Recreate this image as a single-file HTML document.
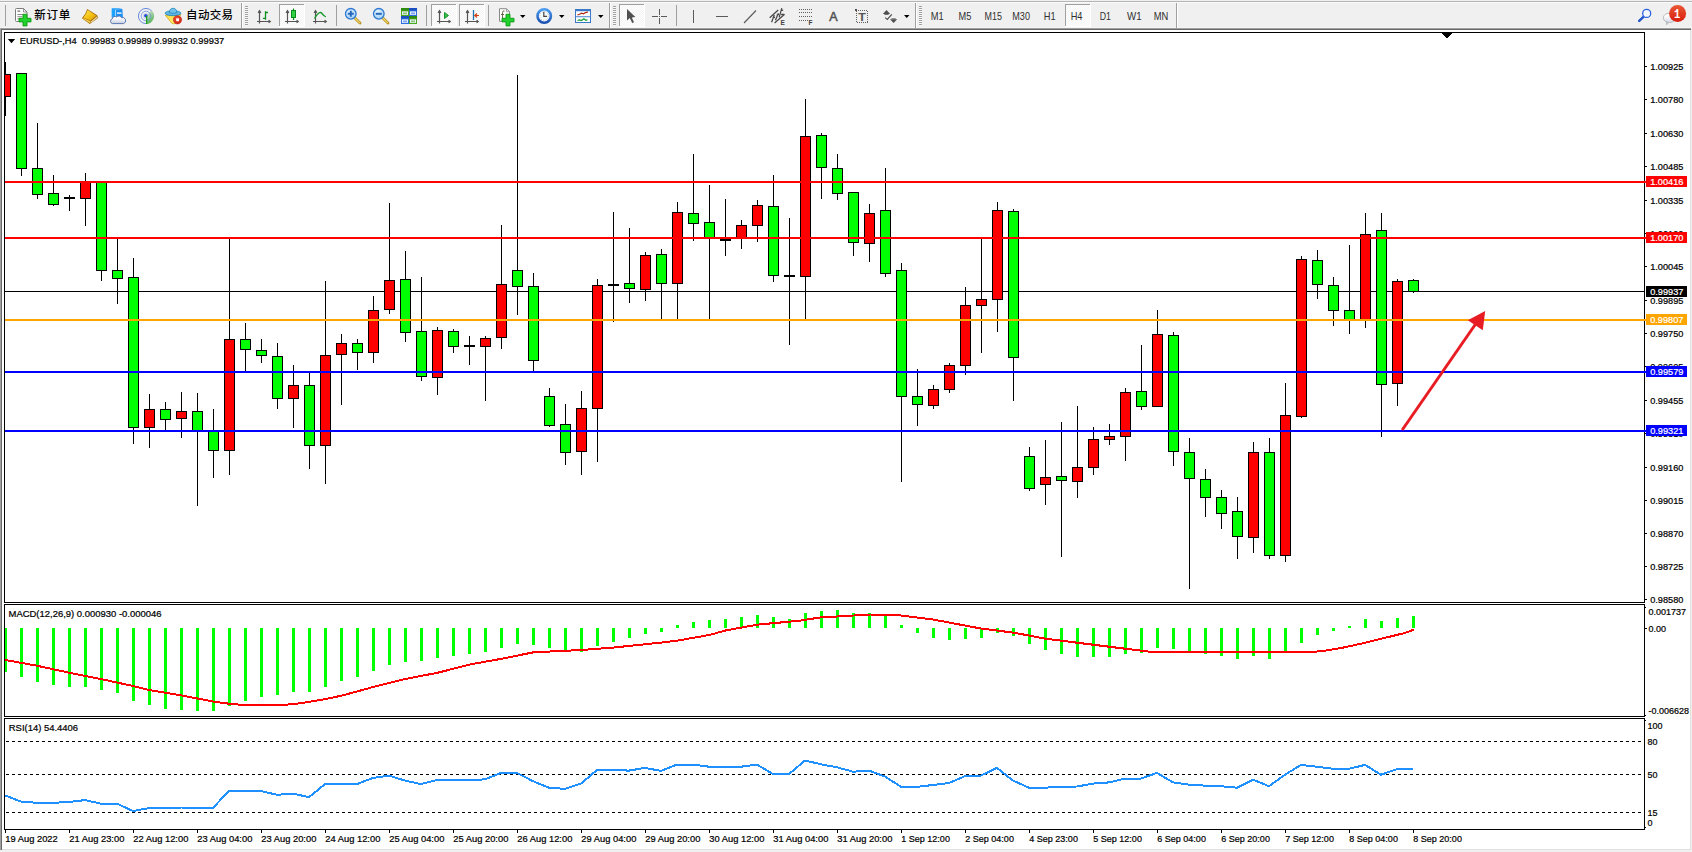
<!DOCTYPE html>
<html lang="zh-CN"><head><meta charset="utf-8"><title>EURUSD-,H4</title>
<style>
html,body{margin:0;padding:0;background:#fff;}
body{width:1692px;height:852px;overflow:hidden;position:relative;font-family:"Liberation Sans", "Noto Sans CJK SC", sans-serif;}
svg{position:absolute;left:0;top:0;display:block;}
svg text{font-family:"Liberation Sans", "Noto Sans CJK SC", sans-serif;white-space:pre;}
</style></head><body>
<svg width="1692" height="852" viewBox="0 0 1692 852">
<rect x="0" y="0" width="1692" height="852" fill="#fff"/>
<rect x="0" y="0" width="1692" height="28" fill="#f0f0f0"/>
<rect x="0" y="1" width="1692" height="1" fill="#b4b4b4"/>
<rect x="0" y="2" width="1692" height="1" fill="#fbfbfb"/>
<rect x="0" y="27" width="1692" height="1" fill="#f5f5f5"/>
<defs><pattern id="dots" width="2" height="2" patternUnits="userSpaceOnUse"><rect width="2" height="2" fill="#f4f4f4"/><rect width="1" height="1" fill="#fff"/><rect x="1" y="1" width="1" height="1" fill="#fff"/></pattern><linearGradient id="gGold" x1="0" y1="0" x2="1" y2="1"><stop offset="0" stop-color="#ffe860"/><stop offset="0.55" stop-color="#f4c010"/><stop offset="1" stop-color="#dc9c10"/></linearGradient><linearGradient id="gBlue" x1="0" y1="0" x2="0" y2="1"><stop offset="0" stop-color="#5db1ff"/><stop offset="1" stop-color="#1f6fd6"/></linearGradient><radialGradient id="gRed" cx="0.4" cy="0.35" r="0.7"><stop offset="0" stop-color="#f0523a"/><stop offset="1" stop-color="#d0200f"/></radialGradient><radialGradient id="gLens" cx="0.4" cy="0.35" r="0.7"><stop offset="0" stop-color="#eaf6ff"/><stop offset="1" stop-color="#9cccf6"/></radialGradient></defs>
<rect x="5" y="5" width="1" height="21" fill="#a0a0a0" shape-rendering="crispEdges"/>
<g><path d="M16.5,8.5 h7 l3.5,3.5 v8.5 q0,1 -1,1 h-9.5 q-1,0 -1,-1 v-11 q0,-1 1,-1 z" fill="#fdfdfd" stroke="#7c7c7c" stroke-width="1"/><path d="M23.5,8.7 v3.3 h3.3" fill="none" stroke="#7c7c7c" stroke-width="0.8"/><rect x="17.4" y="10.4" width="2.8" height="1.5" fill="#8a8a8a"/><rect x="17.4" y="14" width="6.5" height="1" fill="#8a8a8a"/><rect x="17.4" y="16.2" width="5" height="1" fill="#8a8a8a"/><rect x="17.4" y="18.4" width="3" height="1" fill="#8a8a8a"/><path d="M23,14.3 h4 v4 h4 v3.6 h-4 v4 h-4 v-4 h-4 v-3.6 h4 z" fill="#22d02e" stroke="#0c9a14" stroke-width="0.9"/></g>
<text x="34.2" y="19.1" font-size="11.5" font-weight="500" fill="#000" textLength="36" lengthAdjust="spacing">新订单</text>
<g><path d="M87.2,9 L97.2,15.3 L98.1,18 L89.8,24.1 L81.9,18.3 L85.4,13.6 Z" fill="#a86c08"/><path d="M87.6,10 L96.3,15.7 L90.4,20.4 L83.4,17.4 L86.1,13.8 Z" fill="url(#gGold)"/><path d="M82.9,18.4 L89.7,23.1 L90.5,21.2 L83.6,18 Z" fill="#f6cf48"/><path d="M90.9,21.4 L96.9,16.5 L97.4,17.7 L90.4,23.2 Z" fill="#eadfa8"/></g>
<g><path d="M111.8,8.6 L115.6,7.9 L122.4,9 L122.9,17.5 L111.8,17.5 Z" fill="#1c8ef2"/><path d="M111.8,8.6 L115.6,7.9 L122.4,9 L115.8,10 Z" fill="#56b4ff"/><path d="M111.8,8.6 L115.8,10 L115.8,17.5 L111.8,17.5 Z" fill="#1ea2ff"/><path d="M115.6,10 V17.5" stroke="#e8f4ff" stroke-width="0.7"/><rect x="117" y="12.4" width="4.6" height="1.4" fill="#eaf5ff"/><linearGradient id="gCloud" x1="0" y1="0" x2="0" y2="1"><stop offset="0.3" stop-color="#ffffff"/><stop offset="1" stop-color="#c2cce0"/></linearGradient><path d="M112.6,23.6 A2.4,2.4 0 0 1 112.3,18.9 A2.6,2.6 0 0 1 116.6,17.1 A2.9,2.9 0 0 1 121.5,17.7 A2.7,2.7 0 0 1 123.6,23.6 Z" fill="url(#gCloud)" stroke="#4f6cae" stroke-width="0.9"/></g>
<g fill="none"><linearGradient id="gSig" x1="0" y1="0" x2="0.4" y2="1"><stop offset="0" stop-color="#dfeadb"/><stop offset="1" stop-color="#3aa83a"/></linearGradient><path d="M146,16 L146,24 A8,8 0 0 0 151.6,10.3 Z" fill="url(#gSig)" opacity="0.85"/><circle cx="146" cy="16" r="7.6" stroke="#5c82dc" stroke-width="1" stroke-dasharray="30 18" stroke-dashoffset="-12" opacity="0.9"/><circle cx="146" cy="16" r="4.8" stroke="#6c8edc" stroke-width="1" opacity="0.8"/><circle cx="146" cy="16" r="2.7" stroke="#b8c8ec" stroke-width="0.8" opacity="0.8"/><circle cx="145.8" cy="15.7" r="1.8" fill="#2a52d0"/><rect x="146" y="16" width="1.3" height="8" fill="#1aa01a"/></g>
<g><linearGradient id="gFace" x1="0" y1="0" x2="0.6" y2="1"><stop offset="0" stop-color="#ffd83a"/><stop offset="1" stop-color="#fff27a"/></linearGradient><path d="M165.4,15.2 L180.8,14.6 L175.5,23.4 Q173.4,24.4 171.8,23.2 Z" fill="url(#gFace)" stroke="#d2a412" stroke-width="0.8"/><ellipse cx="173" cy="13.2" rx="7.9" ry="2.5" fill="#62b4e6" stroke="#1c88b6" stroke-width="0.8"/><path d="M169.3,12.7 Q169.7,8.3 173.1,8.3 Q176.5,8.3 176.9,12.7 Q173.1,14 169.3,12.7 Z" fill="#74c0ec" stroke="#1c88b6" stroke-width="0.8"/><circle cx="177.5" cy="19.8" r="4.15" fill="url(#gRed)" stroke="#b81c08" stroke-width="0.5"/><rect x="176.2" y="18.3" width="2.8" height="2.9" fill="#fff"/></g>
<text x="186.1" y="19.1" font-size="11.5" font-weight="500" fill="#000" textLength="47" lengthAdjust="spacing">自动交易</text>
<rect x="241" y="3" width="1" height="25" fill="#a0a0a0" shape-rendering="crispEdges"/>
<rect x="242" y="3" width="1" height="25" fill="#ffffff" shape-rendering="crispEdges"/>
<rect x="245" y="6" width="3" height="1" fill="#a0a0a0" shape-rendering="crispEdges"/>
<rect x="245" y="7" width="3" height="1" fill="#f8f8f8" shape-rendering="crispEdges"/>
<rect x="245" y="8" width="3" height="1" fill="#a0a0a0" shape-rendering="crispEdges"/>
<rect x="245" y="9" width="3" height="1" fill="#f8f8f8" shape-rendering="crispEdges"/>
<rect x="245" y="10" width="3" height="1" fill="#a0a0a0" shape-rendering="crispEdges"/>
<rect x="245" y="11" width="3" height="1" fill="#f8f8f8" shape-rendering="crispEdges"/>
<rect x="245" y="12" width="3" height="1" fill="#a0a0a0" shape-rendering="crispEdges"/>
<rect x="245" y="13" width="3" height="1" fill="#f8f8f8" shape-rendering="crispEdges"/>
<rect x="245" y="14" width="3" height="1" fill="#a0a0a0" shape-rendering="crispEdges"/>
<rect x="245" y="15" width="3" height="1" fill="#f8f8f8" shape-rendering="crispEdges"/>
<rect x="245" y="16" width="3" height="1" fill="#a0a0a0" shape-rendering="crispEdges"/>
<rect x="245" y="17" width="3" height="1" fill="#f8f8f8" shape-rendering="crispEdges"/>
<rect x="245" y="18" width="3" height="1" fill="#a0a0a0" shape-rendering="crispEdges"/>
<rect x="245" y="19" width="3" height="1" fill="#f8f8f8" shape-rendering="crispEdges"/>
<rect x="245" y="20" width="3" height="1" fill="#a0a0a0" shape-rendering="crispEdges"/>
<rect x="245" y="21" width="3" height="1" fill="#f8f8f8" shape-rendering="crispEdges"/>
<rect x="245" y="22" width="3" height="1" fill="#a0a0a0" shape-rendering="crispEdges"/>
<rect x="245" y="23" width="3" height="1" fill="#f8f8f8" shape-rendering="crispEdges"/>
<rect x="245" y="24" width="3" height="1" fill="#a0a0a0" shape-rendering="crispEdges"/>
<rect x="245" y="25" width="3" height="1" fill="#f8f8f8" shape-rendering="crispEdges"/>
<g stroke="#555" stroke-width="1.2" fill="none"><path d="M259.5,11 V23.5 M257,21.5 H270"/><path d="M258.1,12.8 L259.5,10.7 L260.9,12.8 M268.6,20.1 L270.3,21.5 L268.6,22.9"/></g>
<path d="M265.5,11.2 V19.8 M265.5,12.5 H268 M263,18.4 H265.5" stroke="#0f8f1c" stroke-width="1.3" fill="none"/>
<rect x="279" y="4" width="26" height="23" fill="url(#dots)"/>
<rect x="279" y="4" width="25" height="1" fill="#a0a0a0" shape-rendering="crispEdges"/>
<rect x="279" y="4" width="1" height="22" fill="#a0a0a0" shape-rendering="crispEdges"/>
<rect x="279" y="26" width="26" height="1" fill="#fff" shape-rendering="crispEdges"/>
<rect x="304" y="4" width="1" height="23" fill="#fff" shape-rendering="crispEdges"/>
<g stroke="#555" stroke-width="1.2" fill="none"><path d="M287.5,11 V23.5 M285,21.5 H298"/><path d="M286.1,12.8 L287.5,10.7 L288.9,12.8 M296.6,20.1 L298.3,21.5 L296.6,22.9"/></g>
<path d="M293.5,8.5 V20" stroke="#0a8a1a" stroke-width="1.2"/><rect x="291.5" y="10.5" width="4" height="7" fill="#2fd044" stroke="#0a8a1a" stroke-width="1"/>
<g stroke="#555" stroke-width="1.2" fill="none"><path d="M315.5,11 V23.5 M313,21.5 H326"/><path d="M314.1,12.8 L315.5,10.7 L316.9,12.8 M324.6,20.1 L326.3,21.5 L324.6,22.9"/></g>
<path d="M314.5,18.5 Q319.5,10 322,13.5 T326,16.5" stroke="#169a2c" stroke-width="1.3" fill="none"/>
<rect x="336" y="5" width="1" height="21" fill="#a0a0a0" shape-rendering="crispEdges"/>
<g><path d="M354.3,17.5 L360,23" stroke="#b8921c" stroke-width="2.8" stroke-linecap="round"/><path d="M354.6,17.8 L359.6,22.6" stroke="#f2d870" stroke-width="1.2" stroke-linecap="round"/><circle cx="350.8" cy="13.8" r="5.3" fill="url(#gLens)" stroke="#2d7ad2" stroke-width="1.3"/><path d="M347.8,13.8 H353.8 M350.8,10.8 V16.8" stroke="#2668bc" stroke-width="2"/></g>
<g><path d="M382.3,17.5 L388,23" stroke="#b8921c" stroke-width="2.8" stroke-linecap="round"/><path d="M382.6,17.8 L387.6,22.6" stroke="#f2d870" stroke-width="1.2" stroke-linecap="round"/><circle cx="378.8" cy="13.8" r="5.3" fill="url(#gLens)" stroke="#2d7ad2" stroke-width="1.3"/><path d="M375.8,13.8 H381.8" stroke="#2668bc" stroke-width="2"/></g>
<rect x="401" y="8" width="8" height="8" fill="#4aa821"/><rect x="401" y="8" width="8" height="2.4" fill="#2f8a10"/><rect x="402" y="11.4" width="6" height="3.4" fill="#eef4ff"/><rect x="403" y="12.7" width="4" height="0.9" fill="#4aa821"/>
<rect x="409" y="8" width="8" height="8" fill="#2f6fe0"/><rect x="409" y="8" width="8" height="2.4" fill="#1b4fc0"/><rect x="410" y="11.4" width="6" height="3.4" fill="#eef4ff"/><rect x="411" y="12.7" width="4" height="0.9" fill="#2f6fe0"/>
<rect x="401" y="16" width="8" height="8" fill="#2f6fe0"/><rect x="401" y="16" width="8" height="2.4" fill="#1b4fc0"/><rect x="402" y="19.4" width="6" height="3.4" fill="#eef4ff"/><rect x="403" y="20.7" width="4" height="0.9" fill="#2f6fe0"/>
<rect x="409" y="16" width="8" height="8" fill="#4aa821"/><rect x="409" y="16" width="8" height="2.4" fill="#2f8a10"/><rect x="410" y="19.4" width="6" height="3.4" fill="#eef4ff"/><rect x="411" y="20.7" width="4" height="0.9" fill="#4aa821"/>
<rect x="426" y="5" width="1" height="21" fill="#a0a0a0" shape-rendering="crispEdges"/>
<rect x="431" y="4" width="26" height="23" fill="url(#dots)"/>
<rect x="431" y="4" width="25" height="1" fill="#a0a0a0" shape-rendering="crispEdges"/>
<rect x="431" y="4" width="1" height="22" fill="#a0a0a0" shape-rendering="crispEdges"/>
<rect x="431" y="26" width="26" height="1" fill="#fff" shape-rendering="crispEdges"/>
<rect x="456" y="4" width="1" height="23" fill="#fff" shape-rendering="crispEdges"/>
<g stroke="#555" stroke-width="1.2" fill="none"><path d="M439.5,11 V23.5 M437,21.5 H450"/><path d="M438.1,12.8 L439.5,10.7 L440.9,12.8 M448.6,20.1 L450.3,21.5 L448.6,22.9"/></g>
<polygon points="444.5,12.5 448.5,15.5 444.5,18.5" fill="#35c24a" stroke="#0f8a20" stroke-width="0.9"/>
<rect x="459" y="4" width="26" height="23" fill="url(#dots)"/>
<rect x="459" y="4" width="25" height="1" fill="#a0a0a0" shape-rendering="crispEdges"/>
<rect x="459" y="4" width="1" height="22" fill="#a0a0a0" shape-rendering="crispEdges"/>
<rect x="459" y="26" width="26" height="1" fill="#fff" shape-rendering="crispEdges"/>
<rect x="484" y="4" width="1" height="23" fill="#fff" shape-rendering="crispEdges"/>
<g stroke="#555" stroke-width="1.2" fill="none"><path d="M467.5,11 V23.5 M465,21.5 H478"/><path d="M466.1,12.8 L467.5,10.7 L468.9,12.8 M476.6,20.1 L478.3,21.5 L476.6,22.9"/></g>
<path d="M473.5,10 V20" stroke="#1f70b0" stroke-width="1.3"/><path d="M479,15.5 H475 M477,13.5 L474.8,15.5 L477,17.5" stroke="#d04010" stroke-width="1.2" fill="none"/>
<rect x="488" y="5" width="1" height="21" fill="#a0a0a0" shape-rendering="crispEdges"/>
<g><path d="M499.5,8.7 h7 l3,3 v9.6 h-10 z" fill="#fdfdfd" stroke="#8a8a8a" stroke-width="1"/><path d="M506.5,8.7 v3 h3" fill="none" stroke="#8a8a8a" stroke-width="0.8"/><path d="M504.5,11 q-2,-0.6 -2,1.6 V19 M501,14.5 h3" stroke="#70684a" stroke-width="1" fill="none"/><path d="M506,14.3 h4 v4 h4 v3.6 h-4 v4 h-4 v-4 h-4 v-3.6 h4 z" fill="#22d02e" stroke="#0c9a14" stroke-width="0.9"/></g>
<polygon points="520,15 525.5,15 522.75,18" fill="#000"/>
<g><linearGradient id="gClk" x1="0" y1="0" x2="0" y2="1"><stop offset="0" stop-color="#4a9cf0"/><stop offset="1" stop-color="#1a50b0"/></linearGradient><circle cx="544.2" cy="16" r="6.7" fill="#f6fafd" stroke="url(#gClk)" stroke-width="2.6"/><circle cx="544.2" cy="16" r="4.4" fill="none" stroke="#90a0b8" stroke-width="0.9" stroke-dasharray="0.7,1.6"/><path d="M543.8,11.8 V16.3 H547" stroke="#444" stroke-width="1.2" fill="none"/></g>
<polygon points="559,15 564.5,15 561.75,18" fill="#000"/>
<g><rect x="575.5" y="9.5" width="15" height="13" fill="#fbfdff" stroke="#3a78c8" stroke-width="1"/><rect x="575" y="9" width="16" height="2.2" fill="#3a78c8"/><rect x="576" y="16.3" width="14" height="0.9" fill="#3a78c8"/><path d="M577.5,15 l2,-0.8 l2,-1 l2,0.6 l2,-1.2 l2.5,-0.6" stroke="#b02a10" stroke-width="1.2" fill="none"/><path d="M577.5,20.5 l2,-0.6 l2,0.6 l2.4,-1.8 l2,1.6 l1.6,-0.6" stroke="#18a030" stroke-width="1.2" fill="none"/></g>
<polygon points="598,15 603.5,15 600.75,18" fill="#000"/>
<rect x="609" y="3" width="1" height="25" fill="#a0a0a0" shape-rendering="crispEdges"/>
<rect x="610" y="3" width="1" height="25" fill="#ffffff" shape-rendering="crispEdges"/>
<rect x="613" y="6" width="3" height="1" fill="#a0a0a0" shape-rendering="crispEdges"/>
<rect x="613" y="7" width="3" height="1" fill="#f8f8f8" shape-rendering="crispEdges"/>
<rect x="613" y="8" width="3" height="1" fill="#a0a0a0" shape-rendering="crispEdges"/>
<rect x="613" y="9" width="3" height="1" fill="#f8f8f8" shape-rendering="crispEdges"/>
<rect x="613" y="10" width="3" height="1" fill="#a0a0a0" shape-rendering="crispEdges"/>
<rect x="613" y="11" width="3" height="1" fill="#f8f8f8" shape-rendering="crispEdges"/>
<rect x="613" y="12" width="3" height="1" fill="#a0a0a0" shape-rendering="crispEdges"/>
<rect x="613" y="13" width="3" height="1" fill="#f8f8f8" shape-rendering="crispEdges"/>
<rect x="613" y="14" width="3" height="1" fill="#a0a0a0" shape-rendering="crispEdges"/>
<rect x="613" y="15" width="3" height="1" fill="#f8f8f8" shape-rendering="crispEdges"/>
<rect x="613" y="16" width="3" height="1" fill="#a0a0a0" shape-rendering="crispEdges"/>
<rect x="613" y="17" width="3" height="1" fill="#f8f8f8" shape-rendering="crispEdges"/>
<rect x="613" y="18" width="3" height="1" fill="#a0a0a0" shape-rendering="crispEdges"/>
<rect x="613" y="19" width="3" height="1" fill="#f8f8f8" shape-rendering="crispEdges"/>
<rect x="613" y="20" width="3" height="1" fill="#a0a0a0" shape-rendering="crispEdges"/>
<rect x="613" y="21" width="3" height="1" fill="#f8f8f8" shape-rendering="crispEdges"/>
<rect x="613" y="22" width="3" height="1" fill="#a0a0a0" shape-rendering="crispEdges"/>
<rect x="613" y="23" width="3" height="1" fill="#f8f8f8" shape-rendering="crispEdges"/>
<rect x="613" y="24" width="3" height="1" fill="#a0a0a0" shape-rendering="crispEdges"/>
<rect x="613" y="25" width="3" height="1" fill="#f8f8f8" shape-rendering="crispEdges"/>
<rect x="619" y="4" width="26" height="23" fill="url(#dots)"/>
<rect x="619" y="4" width="25" height="1" fill="#a0a0a0" shape-rendering="crispEdges"/>
<rect x="619" y="4" width="1" height="22" fill="#a0a0a0" shape-rendering="crispEdges"/>
<rect x="619" y="26" width="26" height="1" fill="#fff" shape-rendering="crispEdges"/>
<rect x="644" y="4" width="1" height="23" fill="#fff" shape-rendering="crispEdges"/>
<path d="M627,9 V20.6 L629.8,18 L632.2,23 L634,22.2 L631.8,17.4 L635.3,17 Z" fill="#505050"/>
<path d="M659.5,9 V15 M659.5,18 V24 M652,16.5 H658 M661,16.5 H667" stroke="#5a5a5a" stroke-width="1" fill="none"/><rect x="659" y="16" width="1" height="1" fill="#5a5a5a"/>
<rect x="676" y="5" width="1" height="21" fill="#a0a0a0" shape-rendering="crispEdges"/>
<path d="M693.5,10 V23" stroke="#5a5a5a" stroke-width="1"/>
<path d="M716,16.5 H728" stroke="#5a5a5a" stroke-width="1"/>
<path d="M744,23 L756,10.5" stroke="#5a5a5a" stroke-width="1.1"/>
<g stroke="#505050" stroke-width="1" fill="none"><path d="M769.7,17.8 L778.2,10 M774.6,23 L784.6,14.2 M771.6,22.2 L774.3,15 M775.4,20.2 L778.4,13.2 M779.2,17.4 L781.8,8.2 M780.6,10.6 L783.2,10.2 M781,14.6 L783.6,14.2 M776.6,15 L779,14.6 M772.6,17.8 L775,17.4" stroke-width="1.25" stroke="#484848"/></g>
<text x="780.5" y="24.6" font-size="6.5" font-weight="bold" fill="#404040">E</text>
<line x1="799" y1="9.5" x2="813" y2="9.5" stroke="#606060" stroke-width="1" stroke-dasharray="1,1" shape-rendering="crispEdges"/>
<line x1="799" y1="12.5" x2="813" y2="12.5" stroke="#606060" stroke-width="1" stroke-dasharray="1,1" shape-rendering="crispEdges"/>
<line x1="799" y1="16.5" x2="813" y2="16.5" stroke="#606060" stroke-width="1" stroke-dasharray="1,1" shape-rendering="crispEdges"/>
<line x1="799" y1="20.5" x2="808" y2="20.5" stroke="#606060" stroke-width="1" stroke-dasharray="1,1" shape-rendering="crispEdges"/>
<text x="808.5" y="24.6" font-size="6.5" font-weight="bold" fill="#404040">F</text>
<text x="829.3" y="21" font-size="12.5" fill="#505050" stroke="#505050" stroke-width="0.5">A</text>
<rect x="856" y="10" width="11.5" height="12.5" fill="none" stroke="#606060" stroke-width="1" stroke-dasharray="1,1" shape-rendering="crispEdges"/>
<rect x="855" y="9" width="2" height="2" fill="#505050"/>
<text x="858.2" y="20.8" font-size="10.8" font-weight="bold" fill="#555" textLength="7.6" lengthAdjust="spacingAndGlyphs">T</text>
<g fill="#505050"><polygon points="882.8,13.9 886.5,10 890.2,13.9"/><rect x="884.4" y="13.9" width="4.2" height="0.9"/><polygon points="890,19.3 897.2,19.3 893.6,23.1"/><rect x="891.5" y="18.4" width="4.2" height="0.9"/></g>
<path d="M885.2,17.6 L887.3,19.5 L891.8,14.3" stroke="#505050" stroke-width="1.2" fill="none"/>
<polygon points="904,15 909.5,15 906.75,18" fill="#000"/>
<rect x="915" y="3" width="1" height="25" fill="#a0a0a0" shape-rendering="crispEdges"/>
<rect x="916" y="3" width="1" height="25" fill="#ffffff" shape-rendering="crispEdges"/>
<rect x="919" y="6" width="3" height="1" fill="#a0a0a0" shape-rendering="crispEdges"/>
<rect x="919" y="7" width="3" height="1" fill="#f8f8f8" shape-rendering="crispEdges"/>
<rect x="919" y="8" width="3" height="1" fill="#a0a0a0" shape-rendering="crispEdges"/>
<rect x="919" y="9" width="3" height="1" fill="#f8f8f8" shape-rendering="crispEdges"/>
<rect x="919" y="10" width="3" height="1" fill="#a0a0a0" shape-rendering="crispEdges"/>
<rect x="919" y="11" width="3" height="1" fill="#f8f8f8" shape-rendering="crispEdges"/>
<rect x="919" y="12" width="3" height="1" fill="#a0a0a0" shape-rendering="crispEdges"/>
<rect x="919" y="13" width="3" height="1" fill="#f8f8f8" shape-rendering="crispEdges"/>
<rect x="919" y="14" width="3" height="1" fill="#a0a0a0" shape-rendering="crispEdges"/>
<rect x="919" y="15" width="3" height="1" fill="#f8f8f8" shape-rendering="crispEdges"/>
<rect x="919" y="16" width="3" height="1" fill="#a0a0a0" shape-rendering="crispEdges"/>
<rect x="919" y="17" width="3" height="1" fill="#f8f8f8" shape-rendering="crispEdges"/>
<rect x="919" y="18" width="3" height="1" fill="#a0a0a0" shape-rendering="crispEdges"/>
<rect x="919" y="19" width="3" height="1" fill="#f8f8f8" shape-rendering="crispEdges"/>
<rect x="919" y="20" width="3" height="1" fill="#a0a0a0" shape-rendering="crispEdges"/>
<rect x="919" y="21" width="3" height="1" fill="#f8f8f8" shape-rendering="crispEdges"/>
<rect x="919" y="22" width="3" height="1" fill="#a0a0a0" shape-rendering="crispEdges"/>
<rect x="919" y="23" width="3" height="1" fill="#f8f8f8" shape-rendering="crispEdges"/>
<rect x="919" y="24" width="3" height="1" fill="#a0a0a0" shape-rendering="crispEdges"/>
<rect x="919" y="25" width="3" height="1" fill="#f8f8f8" shape-rendering="crispEdges"/>
<rect x="1065" y="4" width="26" height="23" fill="url(#dots)"/>
<rect x="1065" y="4" width="25" height="1" fill="#a0a0a0" shape-rendering="crispEdges"/>
<rect x="1065" y="4" width="1" height="22" fill="#a0a0a0" shape-rendering="crispEdges"/>
<rect x="1065" y="26" width="26" height="1" fill="#fff" shape-rendering="crispEdges"/>
<rect x="1090" y="4" width="1" height="23" fill="#fff" shape-rendering="crispEdges"/>
<text x="930.7" y="20" font-size="10.4" fill="#303030" textLength="13" lengthAdjust="spacingAndGlyphs">M1</text>
<text x="958.6" y="20" font-size="10.4" fill="#303030" textLength="12.8" lengthAdjust="spacingAndGlyphs">M5</text>
<text x="984.6" y="20" font-size="10.4" fill="#303030" textLength="17.4" lengthAdjust="spacingAndGlyphs">M15</text>
<text x="1012.3" y="20" font-size="10.4" fill="#303030" textLength="17.7" lengthAdjust="spacingAndGlyphs">M30</text>
<text x="1043.7" y="20" font-size="10.4" fill="#303030" textLength="11.9" lengthAdjust="spacingAndGlyphs">H1</text>
<text x="1070.7" y="20" font-size="10.4" fill="#303030" textLength="11.8" lengthAdjust="spacingAndGlyphs">H4</text>
<text x="1099.8" y="20" font-size="10.4" fill="#303030" textLength="11.2" lengthAdjust="spacingAndGlyphs">D1</text>
<text x="1127" y="20" font-size="10.4" fill="#303030" textLength="14.6" lengthAdjust="spacingAndGlyphs">W1</text>
<text x="1153.7" y="20" font-size="10.4" fill="#303030" textLength="14.6" lengthAdjust="spacingAndGlyphs">MN</text>
<rect x="1176" y="3" width="1" height="25" fill="#a0a0a0" shape-rendering="crispEdges"/>
<rect x="1177" y="3" width="1" height="25" fill="#ffffff" shape-rendering="crispEdges"/>
<g><path d="M1643.7,16.6 L1639.2,20.9" stroke="#2456cc" stroke-width="2.5" stroke-linecap="round"/><circle cx="1646.7" cy="13.4" r="4" fill="#f6f8ff" stroke="#2c64dc" stroke-width="1.3"/></g>
<linearGradient id="gBub" x1="0" y1="0" x2="0" y2="1"><stop offset="0.3" stop-color="#ffffff"/><stop offset="1" stop-color="#d4d4e6"/></linearGradient><path d="M1666.3,22 L1666.6,24.8 L1668.8,22.4 Z" fill="#c8c8d4" stroke="#a8a8a8" stroke-width="0.6"/><ellipse cx="1669.5" cy="17.8" rx="6.2" ry="4.7" fill="url(#gBub)" stroke="#b4b4b4" stroke-width="0.9"/>
<linearGradient id="gBadge" x1="0" y1="0" x2="0" y2="1"><stop offset="0" stop-color="#ea5836"/><stop offset="1" stop-color="#d81c0c"/></linearGradient><circle cx="1677.6" cy="13.4" r="8.5" fill="url(#gBadge)"/>
<text x="1677.3" y="18.1" font-size="13" font-weight="bold" fill="#fff" text-anchor="middle" transform="translate(335.4,0) scale(0.8,1)" style="font-family:'Liberation Mono',monospace">1</text>
<g shape-rendering="crispEdges">
<rect x="0" y="28" width="1692" height="1" fill="#a0a0a0"/>
<rect x="0" y="29" width="1692" height="1" fill="#696969"/>
<rect x="0" y="28" width="1" height="822" fill="#a0a0a0"/>
<rect x="1" y="29" width="1" height="821" fill="#696969"/>
<rect x="1690" y="30" width="1" height="820" fill="#e0e0e0"/>
<rect x="1691" y="28" width="1" height="824" fill="#f0f0f0"/>
<rect x="2" y="849" width="1689" height="1" fill="#e0e0e0"/>
<rect x="0" y="850" width="1692" height="2" fill="#f0f0f0"/>
<rect x="4.5" y="32.5" width="1640" height="570" fill="none" stroke="#000" stroke-width="1"/>
<rect x="4.5" y="604.5" width="1640" height="112" fill="none" stroke="#000" stroke-width="1"/>
<rect x="4.5" y="718.5" width="1640" height="111" fill="none" stroke="#000" stroke-width="1"/>
<clipPath id="cm"><rect x="5" y="33" width="1639" height="569"/></clipPath>
<g clip-path="url(#cm)">
<rect x="5" y="291" width="1639" height="1" fill="#000"/>
<rect x="5" y="62" width="1" height="54" fill="#000"/>
<rect x="0" y="74" width="11" height="23" fill="#000"/>
<rect x="1" y="75" width="9" height="21" fill="#ff0000"/>
<rect x="21" y="73" width="1" height="103" fill="#000"/>
<rect x="16" y="73" width="11" height="96" fill="#000"/>
<rect x="17" y="74" width="9" height="94" fill="#00ff00"/>
<rect x="37" y="123" width="1" height="76" fill="#000"/>
<rect x="32" y="168" width="11" height="27" fill="#000"/>
<rect x="33" y="169" width="9" height="25" fill="#00ff00"/>
<rect x="53" y="175" width="1" height="31" fill="#000"/>
<rect x="48" y="193" width="11" height="12" fill="#000"/>
<rect x="49" y="194" width="9" height="10" fill="#00ff00"/>
<rect x="69" y="195" width="1" height="16" fill="#000"/>
<rect x="64" y="197" width="11" height="2" fill="#000"/>
<rect x="85" y="173" width="1" height="53" fill="#000"/>
<rect x="80" y="182" width="11" height="17" fill="#000"/>
<rect x="81" y="183" width="9" height="15" fill="#ff0000"/>
<rect x="101" y="182" width="1" height="99" fill="#000"/>
<rect x="96" y="182" width="11" height="89" fill="#000"/>
<rect x="97" y="183" width="9" height="87" fill="#00ff00"/>
<rect x="117" y="239" width="1" height="65" fill="#000"/>
<rect x="112" y="270" width="11" height="9" fill="#000"/>
<rect x="113" y="271" width="9" height="7" fill="#00ff00"/>
<rect x="133" y="258" width="1" height="186" fill="#000"/>
<rect x="128" y="277" width="11" height="151" fill="#000"/>
<rect x="129" y="278" width="9" height="149" fill="#00ff00"/>
<rect x="149" y="394" width="1" height="54" fill="#000"/>
<rect x="144" y="409" width="11" height="19" fill="#000"/>
<rect x="145" y="410" width="9" height="17" fill="#ff0000"/>
<rect x="165" y="402" width="1" height="28" fill="#000"/>
<rect x="160" y="409" width="11" height="11" fill="#000"/>
<rect x="161" y="410" width="9" height="9" fill="#00ff00"/>
<rect x="181" y="392" width="1" height="46" fill="#000"/>
<rect x="176" y="411" width="11" height="8" fill="#000"/>
<rect x="177" y="412" width="9" height="6" fill="#ff0000"/>
<rect x="197" y="393" width="1" height="113" fill="#000"/>
<rect x="192" y="411" width="11" height="21" fill="#000"/>
<rect x="193" y="412" width="9" height="19" fill="#00ff00"/>
<rect x="213" y="409" width="1" height="69" fill="#000"/>
<rect x="208" y="431" width="11" height="20" fill="#000"/>
<rect x="209" y="432" width="9" height="18" fill="#00ff00"/>
<rect x="229" y="238" width="1" height="237" fill="#000"/>
<rect x="224" y="339" width="11" height="112" fill="#000"/>
<rect x="225" y="340" width="9" height="110" fill="#ff0000"/>
<rect x="245" y="323" width="1" height="48" fill="#000"/>
<rect x="240" y="339" width="11" height="11" fill="#000"/>
<rect x="241" y="340" width="9" height="9" fill="#00ff00"/>
<rect x="261" y="339" width="1" height="24" fill="#000"/>
<rect x="256" y="350" width="11" height="6" fill="#000"/>
<rect x="257" y="351" width="9" height="4" fill="#00ff00"/>
<rect x="277" y="343" width="1" height="66" fill="#000"/>
<rect x="272" y="356" width="11" height="43" fill="#000"/>
<rect x="273" y="357" width="9" height="41" fill="#00ff00"/>
<rect x="293" y="365" width="1" height="63" fill="#000"/>
<rect x="288" y="385" width="11" height="14" fill="#000"/>
<rect x="289" y="386" width="9" height="12" fill="#ff0000"/>
<rect x="309" y="373" width="1" height="96" fill="#000"/>
<rect x="304" y="385" width="11" height="61" fill="#000"/>
<rect x="305" y="386" width="9" height="59" fill="#00ff00"/>
<rect x="325" y="281" width="1" height="203" fill="#000"/>
<rect x="320" y="355" width="11" height="91" fill="#000"/>
<rect x="321" y="356" width="9" height="89" fill="#ff0000"/>
<rect x="341" y="334" width="1" height="71" fill="#000"/>
<rect x="336" y="343" width="11" height="12" fill="#000"/>
<rect x="337" y="344" width="9" height="10" fill="#ff0000"/>
<rect x="357" y="339" width="1" height="31" fill="#000"/>
<rect x="352" y="343" width="11" height="10" fill="#000"/>
<rect x="353" y="344" width="9" height="8" fill="#00ff00"/>
<rect x="373" y="296" width="1" height="67" fill="#000"/>
<rect x="368" y="310" width="11" height="43" fill="#000"/>
<rect x="369" y="311" width="9" height="41" fill="#ff0000"/>
<rect x="389" y="203" width="1" height="111" fill="#000"/>
<rect x="384" y="280" width="11" height="30" fill="#000"/>
<rect x="385" y="281" width="9" height="28" fill="#ff0000"/>
<rect x="405" y="251" width="1" height="91" fill="#000"/>
<rect x="400" y="279" width="11" height="54" fill="#000"/>
<rect x="401" y="280" width="9" height="52" fill="#00ff00"/>
<rect x="421" y="277" width="1" height="104" fill="#000"/>
<rect x="416" y="331" width="11" height="46" fill="#000"/>
<rect x="417" y="332" width="9" height="44" fill="#00ff00"/>
<rect x="437" y="327" width="1" height="68" fill="#000"/>
<rect x="432" y="330" width="11" height="48" fill="#000"/>
<rect x="433" y="331" width="9" height="46" fill="#ff0000"/>
<rect x="453" y="329" width="1" height="24" fill="#000"/>
<rect x="448" y="331" width="11" height="16" fill="#000"/>
<rect x="449" y="332" width="9" height="14" fill="#00ff00"/>
<rect x="469" y="336" width="1" height="29" fill="#000"/>
<rect x="464" y="345" width="11" height="2" fill="#000"/>
<rect x="485" y="336" width="1" height="65" fill="#000"/>
<rect x="480" y="338" width="11" height="9" fill="#000"/>
<rect x="481" y="339" width="9" height="7" fill="#ff0000"/>
<rect x="501" y="225" width="1" height="124" fill="#000"/>
<rect x="496" y="284" width="11" height="54" fill="#000"/>
<rect x="497" y="285" width="9" height="52" fill="#ff0000"/>
<rect x="517" y="75" width="1" height="240" fill="#000"/>
<rect x="512" y="270" width="11" height="17" fill="#000"/>
<rect x="513" y="271" width="9" height="15" fill="#00ff00"/>
<rect x="533" y="273" width="1" height="98" fill="#000"/>
<rect x="528" y="286" width="11" height="75" fill="#000"/>
<rect x="529" y="287" width="9" height="73" fill="#00ff00"/>
<rect x="549" y="388" width="1" height="39" fill="#000"/>
<rect x="544" y="396" width="11" height="30" fill="#000"/>
<rect x="545" y="397" width="9" height="28" fill="#00ff00"/>
<rect x="565" y="404" width="1" height="61" fill="#000"/>
<rect x="560" y="424" width="11" height="29" fill="#000"/>
<rect x="561" y="425" width="9" height="27" fill="#00ff00"/>
<rect x="581" y="391" width="1" height="84" fill="#000"/>
<rect x="576" y="408" width="11" height="44" fill="#000"/>
<rect x="577" y="409" width="9" height="42" fill="#ff0000"/>
<rect x="597" y="279" width="1" height="183" fill="#000"/>
<rect x="592" y="285" width="11" height="124" fill="#000"/>
<rect x="593" y="286" width="9" height="122" fill="#ff0000"/>
<rect x="613" y="212" width="1" height="110" fill="#000"/>
<rect x="608" y="284" width="11" height="2" fill="#000"/>
<rect x="629" y="228" width="1" height="75" fill="#000"/>
<rect x="624" y="283" width="11" height="6" fill="#000"/>
<rect x="625" y="284" width="9" height="4" fill="#00ff00"/>
<rect x="645" y="252" width="1" height="49" fill="#000"/>
<rect x="640" y="255" width="11" height="35" fill="#000"/>
<rect x="641" y="256" width="9" height="33" fill="#ff0000"/>
<rect x="661" y="249" width="1" height="70" fill="#000"/>
<rect x="656" y="254" width="11" height="30" fill="#000"/>
<rect x="657" y="255" width="9" height="28" fill="#00ff00"/>
<rect x="677" y="202" width="1" height="117" fill="#000"/>
<rect x="672" y="212" width="11" height="72" fill="#000"/>
<rect x="673" y="213" width="9" height="70" fill="#ff0000"/>
<rect x="693" y="154" width="1" height="87" fill="#000"/>
<rect x="688" y="213" width="11" height="11" fill="#000"/>
<rect x="689" y="214" width="9" height="9" fill="#00ff00"/>
<rect x="709" y="185" width="1" height="134" fill="#000"/>
<rect x="704" y="222" width="11" height="16" fill="#000"/>
<rect x="705" y="223" width="9" height="14" fill="#00ff00"/>
<rect x="725" y="199" width="1" height="57" fill="#000"/>
<rect x="720" y="239" width="11" height="2" fill="#000"/>
<rect x="741" y="220" width="1" height="29" fill="#000"/>
<rect x="736" y="225" width="11" height="14" fill="#000"/>
<rect x="737" y="226" width="9" height="12" fill="#ff0000"/>
<rect x="757" y="200" width="1" height="42" fill="#000"/>
<rect x="752" y="205" width="11" height="21" fill="#000"/>
<rect x="753" y="206" width="9" height="19" fill="#ff0000"/>
<rect x="773" y="175" width="1" height="107" fill="#000"/>
<rect x="768" y="206" width="11" height="70" fill="#000"/>
<rect x="769" y="207" width="9" height="68" fill="#00ff00"/>
<rect x="789" y="218" width="1" height="127" fill="#000"/>
<rect x="784" y="275" width="11" height="2" fill="#000"/>
<rect x="805" y="99" width="1" height="220" fill="#000"/>
<rect x="800" y="136" width="11" height="141" fill="#000"/>
<rect x="801" y="137" width="9" height="139" fill="#ff0000"/>
<rect x="821" y="133" width="1" height="66" fill="#000"/>
<rect x="816" y="135" width="11" height="33" fill="#000"/>
<rect x="817" y="136" width="9" height="31" fill="#00ff00"/>
<rect x="837" y="154" width="1" height="46" fill="#000"/>
<rect x="832" y="168" width="11" height="26" fill="#000"/>
<rect x="833" y="169" width="9" height="24" fill="#00ff00"/>
<rect x="853" y="192" width="1" height="64" fill="#000"/>
<rect x="848" y="192" width="11" height="51" fill="#000"/>
<rect x="849" y="193" width="9" height="49" fill="#00ff00"/>
<rect x="869" y="204" width="1" height="58" fill="#000"/>
<rect x="864" y="213" width="11" height="31" fill="#000"/>
<rect x="865" y="214" width="9" height="29" fill="#ff0000"/>
<rect x="885" y="168" width="1" height="109" fill="#000"/>
<rect x="880" y="210" width="11" height="64" fill="#000"/>
<rect x="881" y="211" width="9" height="62" fill="#00ff00"/>
<rect x="901" y="263" width="1" height="219" fill="#000"/>
<rect x="896" y="270" width="11" height="127" fill="#000"/>
<rect x="897" y="271" width="9" height="125" fill="#00ff00"/>
<rect x="917" y="369" width="1" height="57" fill="#000"/>
<rect x="912" y="396" width="11" height="9" fill="#000"/>
<rect x="913" y="397" width="9" height="7" fill="#00ff00"/>
<rect x="933" y="385" width="1" height="24" fill="#000"/>
<rect x="928" y="389" width="11" height="17" fill="#000"/>
<rect x="929" y="390" width="9" height="15" fill="#ff0000"/>
<rect x="949" y="363" width="1" height="30" fill="#000"/>
<rect x="944" y="365" width="11" height="25" fill="#000"/>
<rect x="945" y="366" width="9" height="23" fill="#ff0000"/>
<rect x="965" y="287" width="1" height="88" fill="#000"/>
<rect x="960" y="305" width="11" height="61" fill="#000"/>
<rect x="961" y="306" width="9" height="59" fill="#ff0000"/>
<rect x="981" y="239" width="1" height="114" fill="#000"/>
<rect x="976" y="299" width="11" height="7" fill="#000"/>
<rect x="977" y="300" width="9" height="5" fill="#ff0000"/>
<rect x="997" y="202" width="1" height="130" fill="#000"/>
<rect x="992" y="210" width="11" height="90" fill="#000"/>
<rect x="993" y="211" width="9" height="88" fill="#ff0000"/>
<rect x="1013" y="209" width="1" height="192" fill="#000"/>
<rect x="1008" y="211" width="11" height="147" fill="#000"/>
<rect x="1009" y="212" width="9" height="145" fill="#00ff00"/>
<rect x="1029" y="447" width="1" height="44" fill="#000"/>
<rect x="1024" y="456" width="11" height="33" fill="#000"/>
<rect x="1025" y="457" width="9" height="31" fill="#00ff00"/>
<rect x="1045" y="440" width="1" height="65" fill="#000"/>
<rect x="1040" y="477" width="11" height="8" fill="#000"/>
<rect x="1041" y="478" width="9" height="6" fill="#ff0000"/>
<rect x="1061" y="422" width="1" height="135" fill="#000"/>
<rect x="1056" y="476" width="11" height="5" fill="#000"/>
<rect x="1057" y="477" width="9" height="3" fill="#00ff00"/>
<rect x="1077" y="406" width="1" height="92" fill="#000"/>
<rect x="1072" y="467" width="11" height="15" fill="#000"/>
<rect x="1073" y="468" width="9" height="13" fill="#ff0000"/>
<rect x="1093" y="427" width="1" height="48" fill="#000"/>
<rect x="1088" y="439" width="11" height="29" fill="#000"/>
<rect x="1089" y="440" width="9" height="27" fill="#ff0000"/>
<rect x="1109" y="424" width="1" height="21" fill="#000"/>
<rect x="1104" y="436" width="11" height="4" fill="#000"/>
<rect x="1105" y="437" width="9" height="2" fill="#ff0000"/>
<rect x="1125" y="388" width="1" height="73" fill="#000"/>
<rect x="1120" y="392" width="11" height="45" fill="#000"/>
<rect x="1121" y="393" width="9" height="43" fill="#ff0000"/>
<rect x="1141" y="345" width="1" height="65" fill="#000"/>
<rect x="1136" y="391" width="11" height="16" fill="#000"/>
<rect x="1137" y="392" width="9" height="14" fill="#00ff00"/>
<rect x="1157" y="310" width="1" height="96" fill="#000"/>
<rect x="1152" y="334" width="11" height="73" fill="#000"/>
<rect x="1153" y="335" width="9" height="71" fill="#ff0000"/>
<rect x="1173" y="332" width="1" height="134" fill="#000"/>
<rect x="1168" y="335" width="11" height="117" fill="#000"/>
<rect x="1169" y="336" width="9" height="115" fill="#00ff00"/>
<rect x="1189" y="438" width="1" height="151" fill="#000"/>
<rect x="1184" y="452" width="11" height="27" fill="#000"/>
<rect x="1185" y="453" width="9" height="25" fill="#00ff00"/>
<rect x="1205" y="469" width="1" height="48" fill="#000"/>
<rect x="1200" y="479" width="11" height="19" fill="#000"/>
<rect x="1201" y="480" width="9" height="17" fill="#00ff00"/>
<rect x="1221" y="490" width="1" height="39" fill="#000"/>
<rect x="1216" y="497" width="11" height="17" fill="#000"/>
<rect x="1217" y="498" width="9" height="15" fill="#00ff00"/>
<rect x="1237" y="497" width="1" height="62" fill="#000"/>
<rect x="1232" y="511" width="11" height="26" fill="#000"/>
<rect x="1233" y="512" width="9" height="24" fill="#00ff00"/>
<rect x="1253" y="442" width="1" height="111" fill="#000"/>
<rect x="1248" y="452" width="11" height="86" fill="#000"/>
<rect x="1249" y="453" width="9" height="84" fill="#ff0000"/>
<rect x="1269" y="438" width="1" height="121" fill="#000"/>
<rect x="1264" y="452" width="11" height="104" fill="#000"/>
<rect x="1265" y="453" width="9" height="102" fill="#00ff00"/>
<rect x="1285" y="383" width="1" height="179" fill="#000"/>
<rect x="1280" y="415" width="11" height="141" fill="#000"/>
<rect x="1281" y="416" width="9" height="139" fill="#ff0000"/>
<rect x="1301" y="256" width="1" height="162" fill="#000"/>
<rect x="1296" y="259" width="11" height="158" fill="#000"/>
<rect x="1297" y="260" width="9" height="156" fill="#ff0000"/>
<rect x="1317" y="250" width="1" height="49" fill="#000"/>
<rect x="1312" y="260" width="11" height="25" fill="#000"/>
<rect x="1313" y="261" width="9" height="23" fill="#00ff00"/>
<rect x="1333" y="277" width="1" height="49" fill="#000"/>
<rect x="1328" y="285" width="11" height="26" fill="#000"/>
<rect x="1329" y="286" width="9" height="24" fill="#00ff00"/>
<rect x="1349" y="245" width="1" height="89" fill="#000"/>
<rect x="1344" y="310" width="11" height="10" fill="#000"/>
<rect x="1345" y="311" width="9" height="8" fill="#00ff00"/>
<rect x="1365" y="213" width="1" height="115" fill="#000"/>
<rect x="1360" y="234" width="11" height="86" fill="#000"/>
<rect x="1361" y="235" width="9" height="84" fill="#ff0000"/>
<rect x="1381" y="213" width="1" height="224" fill="#000"/>
<rect x="1376" y="230" width="11" height="155" fill="#000"/>
<rect x="1377" y="231" width="9" height="153" fill="#00ff00"/>
<rect x="1397" y="279" width="1" height="127" fill="#000"/>
<rect x="1392" y="281" width="11" height="103" fill="#000"/>
<rect x="1393" y="282" width="9" height="101" fill="#ff0000"/>
<rect x="1413" y="279" width="1" height="14" fill="#000"/>
<rect x="1408" y="280" width="11" height="12" fill="#000"/>
<rect x="1409" y="281" width="9" height="10" fill="#00ff00"/>
<rect x="5" y="181" width="1639" height="2" fill="#ff0000"/>
<rect x="5" y="237" width="1639" height="2" fill="#ff0000"/>
<rect x="5" y="319" width="1639" height="2" fill="#ffa500"/>
<rect x="5" y="371" width="1639" height="2" fill="#0000ff"/>
<rect x="5" y="430" width="1639" height="2" fill="#0000ff"/>
<g shape-rendering="geometricPrecision"><line x1="1402.2" y1="430" x2="1477" y2="322" stroke="#e81c23" stroke-width="3"/>
<polygon points="1485.2,311 1467.8,320.3 1482.8,330.3" fill="#e81c23"/></g>
</g>
<polygon points="1441,33 1452,33 1446.5,38.5" fill="#000"/>
<polygon points="7.8,39 15.2,39 11.5,43.3" fill="#000" shape-rendering="geometricPrecision"/>
<text transform="translate(19.8,44) scale(1.013,1)" font-size="9.2" fill="#000" stroke="#000" stroke-width="0.22" text-anchor="start">EURUSD-,H4&#160; 0.99983 0.99989 0.99932 0.99937</text>
<rect x="1645" y="66" width="2" height="1" fill="#000"/>
<text transform="translate(1650.2,69.9) scale(1,1)" font-size="9.2" fill="#000" stroke="#000" stroke-width="0.22" text-anchor="start">1.00925</text>
<rect x="1645" y="99" width="2" height="1" fill="#000"/>
<text transform="translate(1650.2,102.9) scale(1,1)" font-size="9.2" fill="#000" stroke="#000" stroke-width="0.22" text-anchor="start">1.00780</text>
<rect x="1645" y="133" width="2" height="1" fill="#000"/>
<text transform="translate(1650.2,136.9) scale(1,1)" font-size="9.2" fill="#000" stroke="#000" stroke-width="0.22" text-anchor="start">1.00630</text>
<rect x="1645" y="166" width="2" height="1" fill="#000"/>
<text transform="translate(1650.2,169.9) scale(1,1)" font-size="9.2" fill="#000" stroke="#000" stroke-width="0.22" text-anchor="start">1.00485</text>
<rect x="1645" y="200" width="2" height="1" fill="#000"/>
<text transform="translate(1650.2,203.9) scale(1,1)" font-size="9.2" fill="#000" stroke="#000" stroke-width="0.22" text-anchor="start">1.00335</text>
<rect x="1645" y="233" width="2" height="1" fill="#000"/>
<text transform="translate(1650.2,236.9) scale(1,1)" font-size="9.2" fill="#000" stroke="#000" stroke-width="0.22" text-anchor="start">1.00190</text>
<rect x="1645" y="266" width="2" height="1" fill="#000"/>
<text transform="translate(1650.2,269.9) scale(1,1)" font-size="9.2" fill="#000" stroke="#000" stroke-width="0.22" text-anchor="start">1.00045</text>
<rect x="1645" y="300" width="2" height="1" fill="#000"/>
<text transform="translate(1650.2,303.9) scale(1,1)" font-size="9.2" fill="#000" stroke="#000" stroke-width="0.22" text-anchor="start">0.99895</text>
<rect x="1645" y="333" width="2" height="1" fill="#000"/>
<text transform="translate(1650.2,336.9) scale(1,1)" font-size="9.2" fill="#000" stroke="#000" stroke-width="0.22" text-anchor="start">0.99750</text>
<rect x="1645" y="366" width="2" height="1" fill="#000"/>
<text transform="translate(1650.2,369.9) scale(1,1)" font-size="9.2" fill="#000" stroke="#000" stroke-width="0.22" text-anchor="start">0.99605</text>
<rect x="1645" y="400" width="2" height="1" fill="#000"/>
<text transform="translate(1650.2,403.9) scale(1,1)" font-size="9.2" fill="#000" stroke="#000" stroke-width="0.22" text-anchor="start">0.99455</text>
<rect x="1645" y="433" width="2" height="1" fill="#000"/>
<text transform="translate(1650.2,436.9) scale(1,1)" font-size="9.2" fill="#000" stroke="#000" stroke-width="0.22" text-anchor="start">0.99310</text>
<rect x="1645" y="467" width="2" height="1" fill="#000"/>
<text transform="translate(1650.2,470.9) scale(1,1)" font-size="9.2" fill="#000" stroke="#000" stroke-width="0.22" text-anchor="start">0.99160</text>
<rect x="1645" y="500" width="2" height="1" fill="#000"/>
<text transform="translate(1650.2,503.9) scale(1,1)" font-size="9.2" fill="#000" stroke="#000" stroke-width="0.22" text-anchor="start">0.99015</text>
<rect x="1645" y="533" width="2" height="1" fill="#000"/>
<text transform="translate(1650.2,536.9) scale(1,1)" font-size="9.2" fill="#000" stroke="#000" stroke-width="0.22" text-anchor="start">0.98870</text>
<rect x="1645" y="566" width="2" height="1" fill="#000"/>
<text transform="translate(1650.2,569.9) scale(1,1)" font-size="9.2" fill="#000" stroke="#000" stroke-width="0.22" text-anchor="start">0.98725</text>
<rect x="1645" y="599" width="2" height="1" fill="#000"/>
<text transform="translate(1650.2,602.9) scale(1,1)" font-size="9.2" fill="#000" stroke="#000" stroke-width="0.22" text-anchor="start">0.98580</text>
<rect x="1646" y="176" width="41" height="11" fill="#ff0000"/>
<text transform="translate(1650.2,185) scale(1,1)" font-size="9.2" fill="#fff" stroke="#fff" stroke-width="0.22" text-anchor="start">1.00416</text>
<rect x="1646" y="232" width="41" height="11" fill="#ff0000"/>
<text transform="translate(1650.2,241) scale(1,1)" font-size="9.2" fill="#fff" stroke="#fff" stroke-width="0.22" text-anchor="start">1.00170</text>
<rect x="1646" y="314" width="41" height="11" fill="#ffa500"/>
<text transform="translate(1650.2,323) scale(1,1)" font-size="9.2" fill="#fff" stroke="#fff" stroke-width="0.22" text-anchor="start">0.99807</text>
<rect x="1646" y="366" width="41" height="11" fill="#0000ff"/>
<text transform="translate(1650.2,375) scale(1,1)" font-size="9.2" fill="#fff" stroke="#fff" stroke-width="0.22" text-anchor="start">0.99579</text>
<rect x="1646" y="425" width="41" height="11" fill="#0000ff"/>
<text transform="translate(1650.2,434) scale(1,1)" font-size="9.2" fill="#fff" stroke="#fff" stroke-width="0.22" text-anchor="start">0.99321</text>
<rect x="1646" y="286" width="41" height="11" fill="#000"/>
<text transform="translate(1650.2,295) scale(1,1)" font-size="9.2" fill="#fff" stroke="#fff" stroke-width="0.22" text-anchor="start">0.99937</text>
<rect x="1644" y="181" width="2" height="2" fill="#ff0000"/>
<rect x="1644" y="237" width="2" height="2" fill="#ff0000"/>
<rect x="1644" y="319" width="2" height="2" fill="#ffa500"/>
<rect x="1644" y="371" width="2" height="2" fill="#0000ff"/>
<rect x="1644" y="430" width="2" height="2" fill="#0000ff"/>
<clipPath id="c2"><rect x="5" y="605" width="1639" height="111"/></clipPath>
<g clip-path="url(#c2)">
<rect x="4" y="628" width="3" height="44" fill="#00ff00"/>
<rect x="20" y="628" width="3" height="49.1" fill="#00ff00"/>
<rect x="36" y="628" width="3" height="54.1" fill="#00ff00"/>
<rect x="52" y="628" width="3" height="57.1" fill="#00ff00"/>
<rect x="68" y="628" width="3" height="59.2" fill="#00ff00"/>
<rect x="84" y="628" width="3" height="59.2" fill="#00ff00"/>
<rect x="100" y="628" width="3" height="62.2" fill="#00ff00"/>
<rect x="116" y="628" width="3" height="65" fill="#00ff00"/>
<rect x="132" y="628" width="3" height="73" fill="#00ff00"/>
<rect x="148" y="628" width="3" height="77" fill="#00ff00"/>
<rect x="164" y="628" width="3" height="80.8" fill="#00ff00"/>
<rect x="180" y="628" width="3" height="82.1" fill="#00ff00"/>
<rect x="196" y="628" width="3" height="83.1" fill="#00ff00"/>
<rect x="212" y="628" width="3" height="83.1" fill="#00ff00"/>
<rect x="228" y="628" width="3" height="78.1" fill="#00ff00"/>
<rect x="244" y="628" width="3" height="73" fill="#00ff00"/>
<rect x="260" y="628" width="3" height="69" fill="#00ff00"/>
<rect x="276" y="628" width="3" height="67" fill="#00ff00"/>
<rect x="292" y="628" width="3" height="64.2" fill="#00ff00"/>
<rect x="308" y="628" width="3" height="64.2" fill="#00ff00"/>
<rect x="324" y="628" width="3" height="59.2" fill="#00ff00"/>
<rect x="340" y="628" width="3" height="53.1" fill="#00ff00"/>
<rect x="356" y="628" width="3" height="49.1" fill="#00ff00"/>
<rect x="372" y="628" width="3" height="43" fill="#00ff00"/>
<rect x="388" y="628" width="3" height="37" fill="#00ff00"/>
<rect x="404" y="628" width="3" height="34" fill="#00ff00"/>
<rect x="420" y="628" width="3" height="33" fill="#00ff00"/>
<rect x="436" y="628" width="3" height="29.9" fill="#00ff00"/>
<rect x="452" y="628" width="3" height="27.9" fill="#00ff00"/>
<rect x="468" y="628" width="3" height="25.9" fill="#00ff00"/>
<rect x="484" y="628" width="3" height="23.9" fill="#00ff00"/>
<rect x="500" y="628" width="3" height="19.9" fill="#00ff00"/>
<rect x="516" y="628" width="3" height="15.8" fill="#00ff00"/>
<rect x="532" y="628" width="3" height="16.8" fill="#00ff00"/>
<rect x="548" y="628" width="3" height="19.9" fill="#00ff00"/>
<rect x="564" y="628" width="3" height="21.9" fill="#00ff00"/>
<rect x="580" y="628" width="3" height="23.9" fill="#00ff00"/>
<rect x="596" y="628" width="3" height="17.9" fill="#00ff00"/>
<rect x="612" y="628" width="3" height="13.8" fill="#00ff00"/>
<rect x="628" y="628" width="3" height="9.8" fill="#00ff00"/>
<rect x="644" y="628" width="3" height="5.8" fill="#00ff00"/>
<rect x="660" y="628" width="3" height="3.7" fill="#00ff00"/>
<rect x="676" y="625.2" width="3" height="2.8" fill="#00ff00"/>
<rect x="692" y="622.2" width="3" height="5.8" fill="#00ff00"/>
<rect x="708" y="620.2" width="3" height="7.8" fill="#00ff00"/>
<rect x="724" y="619.2" width="3" height="8.8" fill="#00ff00"/>
<rect x="740" y="617.1" width="3" height="10.9" fill="#00ff00"/>
<rect x="756" y="615.1" width="3" height="12.9" fill="#00ff00"/>
<rect x="772" y="617.1" width="3" height="10.9" fill="#00ff00"/>
<rect x="788" y="619.2" width="3" height="8.8" fill="#00ff00"/>
<rect x="804" y="613.1" width="3" height="14.9" fill="#00ff00"/>
<rect x="820" y="611.1" width="3" height="16.9" fill="#00ff00"/>
<rect x="836" y="610.1" width="3" height="17.9" fill="#00ff00"/>
<rect x="852" y="613.1" width="3" height="14.9" fill="#00ff00"/>
<rect x="868" y="613.1" width="3" height="14.9" fill="#00ff00"/>
<rect x="884" y="616.1" width="3" height="11.9" fill="#00ff00"/>
<rect x="900" y="625.2" width="3" height="2.8" fill="#00ff00"/>
<rect x="916" y="628" width="3" height="4.8" fill="#00ff00"/>
<rect x="932" y="628" width="3" height="9.8" fill="#00ff00"/>
<rect x="948" y="628" width="3" height="11.8" fill="#00ff00"/>
<rect x="964" y="628" width="3" height="10.8" fill="#00ff00"/>
<rect x="980" y="628" width="3" height="9.8" fill="#00ff00"/>
<rect x="996" y="628" width="3" height="4.8" fill="#00ff00"/>
<rect x="1012" y="628" width="3" height="7.8" fill="#00ff00"/>
<rect x="1028" y="628" width="3" height="15.8" fill="#00ff00"/>
<rect x="1044" y="628" width="3" height="21.9" fill="#00ff00"/>
<rect x="1060" y="628" width="3" height="25.9" fill="#00ff00"/>
<rect x="1076" y="628" width="3" height="28.9" fill="#00ff00"/>
<rect x="1092" y="628" width="3" height="28.9" fill="#00ff00"/>
<rect x="1108" y="628" width="3" height="28.9" fill="#00ff00"/>
<rect x="1124" y="628" width="3" height="25.9" fill="#00ff00"/>
<rect x="1140" y="628" width="3" height="24.9" fill="#00ff00"/>
<rect x="1156" y="628" width="3" height="19.9" fill="#00ff00"/>
<rect x="1172" y="628" width="3" height="20.9" fill="#00ff00"/>
<rect x="1188" y="628" width="3" height="23.9" fill="#00ff00"/>
<rect x="1204" y="628" width="3" height="25.9" fill="#00ff00"/>
<rect x="1220" y="628" width="3" height="27.9" fill="#00ff00"/>
<rect x="1236" y="628" width="3" height="31" fill="#00ff00"/>
<rect x="1252" y="628" width="3" height="28.1" fill="#00ff00"/>
<rect x="1268" y="628" width="3" height="31" fill="#00ff00"/>
<rect x="1284" y="628" width="3" height="24.3" fill="#00ff00"/>
<rect x="1300" y="628" width="3" height="15" fill="#00ff00"/>
<rect x="1316" y="628" width="3" height="7.1" fill="#00ff00"/>
<rect x="1332" y="628" width="3" height="2.5" fill="#00ff00"/>
<rect x="1348" y="625.9" width="3" height="2.1" fill="#00ff00"/>
<rect x="1364" y="618.9" width="3" height="9.1" fill="#00ff00"/>
<rect x="1380" y="621" width="3" height="7" fill="#00ff00"/>
<rect x="1396" y="618" width="3" height="10" fill="#00ff00"/>
<rect x="1412" y="616" width="3" height="12" fill="#00ff00"/>
<polyline points="5,659.9 37.8,665.9 70.5,673 100.8,679 133.5,686.1 151,690.4 181.4,695.4 214,701.7 229,703.7 245.6,705.2 277,705.2 293.5,704.2 310,701.7 325,699.2 342.6,695.4 372.8,687.1 403,679.5 437.8,672.7 470.5,664.4 500.8,658.9 533.5,652.3 581.4,650 614,647.5 662,642.5 677,640.7 709.8,634.9 725,630.6 757.7,624.6 790.4,621.6 800,620.6 820,617.5 870.5,614.5 885.6,614.5 900.8,615.5 933.5,619.6 981.4,628.6 1014,632.7 1045.6,638.7 1077,642.7 1109.8,646.8 1150,651.8 1225.7,652.3 1309,652.4 1325,650.7 1345.3,647.2 1365.7,642.6 1386,637.6 1403.5,633.3 1413.7,629.8" fill="none" stroke="#ff0000" stroke-width="2" stroke-linejoin="round"/>
</g>
<text transform="translate(8.5,617) scale(1.029,1)" font-size="9.2" fill="#000" stroke="#000" stroke-width="0.22" text-anchor="start">MACD(12,26,9) 0.000930 -0.000046</text>
<text transform="translate(1648.5,615) scale(0.9783,1)" font-size="9.2" fill="#000" stroke="#000" stroke-width="0.22" text-anchor="start">0.001737</text>
<text transform="translate(1648.5,632.2) scale(0.9783,1)" font-size="9.2" fill="#000" stroke="#000" stroke-width="0.22" text-anchor="start">0.00</text>
<text transform="translate(1648.5,713.6) scale(0.9783,1)" font-size="9.2" fill="#000" stroke="#000" stroke-width="0.22" text-anchor="start">-0.006628</text>
<rect x="1645" y="628" width="2" height="1" fill="#000"/>
<rect x="1645" y="715" width="1" height="1" fill="#000"/>
<rect x="1645" y="720" width="1" height="1" fill="#000"/>
<rect x="1645" y="827" width="1" height="1" fill="#000"/>
<rect x="1645" y="607" width="1" height="1" fill="#000"/>
<clipPath id="c3"><rect x="5" y="719" width="1639" height="110"/></clipPath>
<g clip-path="url(#c3)">
<line x1="6" y1="741.5" x2="1644" y2="741.5" stroke="#000" stroke-width="1" stroke-dasharray="3,3" shape-rendering="crispEdges"/>
<line x1="6" y1="774.5" x2="1644" y2="774.5" stroke="#000" stroke-width="1" stroke-dasharray="3,3" shape-rendering="crispEdges"/>
<line x1="6" y1="812.5" x2="1644" y2="812.5" stroke="#000" stroke-width="1" stroke-dasharray="3,3" shape-rendering="crispEdges"/>
<polyline points="5,795.4 21,801.6 37,802.8 53,802.8 69,802 85,800.1 101,803.7 117,803.7 133,811 149,808.1 165,808.1 181,807.5 197,807.8 213,807.8 229,791 245,791 261,791 277,794.8 293,793.6 309,797.2 325,784.1 341,784.1 357,784.1 373,777.9 389,775.6 405,780.6 421,784.1 437,780 453,780 469,780 485,779.4 501,772.9 517,772.9 533,781.2 549,787.7 565,788.9 581,783.6 597,770 613,770 629,770.6 645,767.9 661,770.9 677,764.6 693,764.6 709,766.7 725,766.7 741,766.7 757,764.6 773,774.1 789,774.1 805,760.5 821,764.3 837,767.3 853,771.7 869,770.6 885,776.5 901,786.8 917,786.8 933,785 949,783 965,776.2 981,775.6 997,767.9 1013,780.6 1029,787.7 1045,787.7 1061,786.8 1077,786.5 1093,783.6 1109,782.4 1125,778.5 1141,778.5 1157,772.9 1173,782.4 1189,784.7 1205,785.6 1221,786.2 1237,787.7 1253,779.7 1269,786.2 1285,774.7 1301,764.9 1317,766.7 1333,768.8 1349,768.8 1365,764.9 1381,774.7 1397,769.1 1413,769.1" fill="none" stroke="#1e90ff" stroke-width="2" stroke-linejoin="round"/>
</g>
<text transform="translate(8.8,731) scale(1.028,1)" font-size="9.2" fill="#000" stroke="#000" stroke-width="0.22" text-anchor="start">RSI(14) 54.4406</text>
<text transform="translate(1647.6,729.3) scale(0.9783,1)" font-size="9.2" fill="#000" stroke="#000" stroke-width="0.22" text-anchor="start">100</text>
<text transform="translate(1647.6,744.8) scale(0.9783,1)" font-size="9.2" fill="#000" stroke="#000" stroke-width="0.22" text-anchor="start">80</text>
<text transform="translate(1647.6,777.8) scale(0.9783,1)" font-size="9.2" fill="#000" stroke="#000" stroke-width="0.22" text-anchor="start">50</text>
<text transform="translate(1647.6,815.8) scale(0.9783,1)" font-size="9.2" fill="#000" stroke="#000" stroke-width="0.22" text-anchor="start">15</text>
<text transform="translate(1647.6,825.8) scale(0.9783,1)" font-size="9.2" fill="#000" stroke="#000" stroke-width="0.22" text-anchor="start">0</text>
<rect x="5" y="830" width="1" height="3" fill="#000"/>
<text transform="translate(5.3,842) scale(1.016,1)" font-size="9.2" fill="#000" stroke="#000" stroke-width="0.22" text-anchor="start">19 Aug 2022</text>
<rect x="69" y="830" width="1" height="3" fill="#000"/>
<text transform="translate(69.3,842) scale(1.016,1)" font-size="9.2" fill="#000" stroke="#000" stroke-width="0.22" text-anchor="start">21 Aug 23:00</text>
<rect x="133" y="830" width="1" height="3" fill="#000"/>
<text transform="translate(133.3,842) scale(1.016,1)" font-size="9.2" fill="#000" stroke="#000" stroke-width="0.22" text-anchor="start">22 Aug 12:00</text>
<rect x="197" y="830" width="1" height="3" fill="#000"/>
<text transform="translate(197.3,842) scale(1.016,1)" font-size="9.2" fill="#000" stroke="#000" stroke-width="0.22" text-anchor="start">23 Aug 04:00</text>
<rect x="261" y="830" width="1" height="3" fill="#000"/>
<text transform="translate(261.3,842) scale(1.016,1)" font-size="9.2" fill="#000" stroke="#000" stroke-width="0.22" text-anchor="start">23 Aug 20:00</text>
<rect x="325" y="830" width="1" height="3" fill="#000"/>
<text transform="translate(325.3,842) scale(1.016,1)" font-size="9.2" fill="#000" stroke="#000" stroke-width="0.22" text-anchor="start">24 Aug 12:00</text>
<rect x="389" y="830" width="1" height="3" fill="#000"/>
<text transform="translate(389.3,842) scale(1.016,1)" font-size="9.2" fill="#000" stroke="#000" stroke-width="0.22" text-anchor="start">25 Aug 04:00</text>
<rect x="453" y="830" width="1" height="3" fill="#000"/>
<text transform="translate(453.3,842) scale(1.016,1)" font-size="9.2" fill="#000" stroke="#000" stroke-width="0.22" text-anchor="start">25 Aug 20:00</text>
<rect x="517" y="830" width="1" height="3" fill="#000"/>
<text transform="translate(517.3,842) scale(1.016,1)" font-size="9.2" fill="#000" stroke="#000" stroke-width="0.22" text-anchor="start">26 Aug 12:00</text>
<rect x="581" y="830" width="1" height="3" fill="#000"/>
<text transform="translate(581.3,842) scale(1.016,1)" font-size="9.2" fill="#000" stroke="#000" stroke-width="0.22" text-anchor="start">29 Aug 04:00</text>
<rect x="645" y="830" width="1" height="3" fill="#000"/>
<text transform="translate(645.3,842) scale(1.016,1)" font-size="9.2" fill="#000" stroke="#000" stroke-width="0.22" text-anchor="start">29 Aug 20:00</text>
<rect x="709" y="830" width="1" height="3" fill="#000"/>
<text transform="translate(709.3,842) scale(1.016,1)" font-size="9.2" fill="#000" stroke="#000" stroke-width="0.22" text-anchor="start">30 Aug 12:00</text>
<rect x="773" y="830" width="1" height="3" fill="#000"/>
<text transform="translate(773.3,842) scale(1.016,1)" font-size="9.2" fill="#000" stroke="#000" stroke-width="0.22" text-anchor="start">31 Aug 04:00</text>
<rect x="837" y="830" width="1" height="3" fill="#000"/>
<text transform="translate(837.3,842) scale(1.016,1)" font-size="9.2" fill="#000" stroke="#000" stroke-width="0.22" text-anchor="start">31 Aug 20:00</text>
<rect x="901" y="830" width="1" height="3" fill="#000"/>
<text transform="translate(901.3,842) scale(0.9815,1)" font-size="9.2" fill="#000" stroke="#000" stroke-width="0.22" text-anchor="start">1 Sep 12:00</text>
<rect x="965" y="830" width="1" height="3" fill="#000"/>
<text transform="translate(965.3,842) scale(0.9815,1)" font-size="9.2" fill="#000" stroke="#000" stroke-width="0.22" text-anchor="start">2 Sep 04:00</text>
<rect x="1029" y="830" width="1" height="3" fill="#000"/>
<text transform="translate(1029.3,842) scale(0.9815,1)" font-size="9.2" fill="#000" stroke="#000" stroke-width="0.22" text-anchor="start">4 Sep 23:00</text>
<rect x="1093" y="830" width="1" height="3" fill="#000"/>
<text transform="translate(1093.3,842) scale(0.9815,1)" font-size="9.2" fill="#000" stroke="#000" stroke-width="0.22" text-anchor="start">5 Sep 12:00</text>
<rect x="1157" y="830" width="1" height="3" fill="#000"/>
<text transform="translate(1157.3,842) scale(0.9815,1)" font-size="9.2" fill="#000" stroke="#000" stroke-width="0.22" text-anchor="start">6 Sep 04:00</text>
<rect x="1221" y="830" width="1" height="3" fill="#000"/>
<text transform="translate(1221.3,842) scale(0.9815,1)" font-size="9.2" fill="#000" stroke="#000" stroke-width="0.22" text-anchor="start">6 Sep 20:00</text>
<rect x="1285" y="830" width="1" height="3" fill="#000"/>
<text transform="translate(1285.3,842) scale(0.9815,1)" font-size="9.2" fill="#000" stroke="#000" stroke-width="0.22" text-anchor="start">7 Sep 12:00</text>
<rect x="1349" y="830" width="1" height="3" fill="#000"/>
<text transform="translate(1349.3,842) scale(0.9815,1)" font-size="9.2" fill="#000" stroke="#000" stroke-width="0.22" text-anchor="start">8 Sep 04:00</text>
<rect x="1413" y="830" width="1" height="3" fill="#000"/>
<text transform="translate(1413.3,842) scale(0.9815,1)" font-size="9.2" fill="#000" stroke="#000" stroke-width="0.22" text-anchor="start">8 Sep 20:00</text>
</g>
</svg>
</body></html>
